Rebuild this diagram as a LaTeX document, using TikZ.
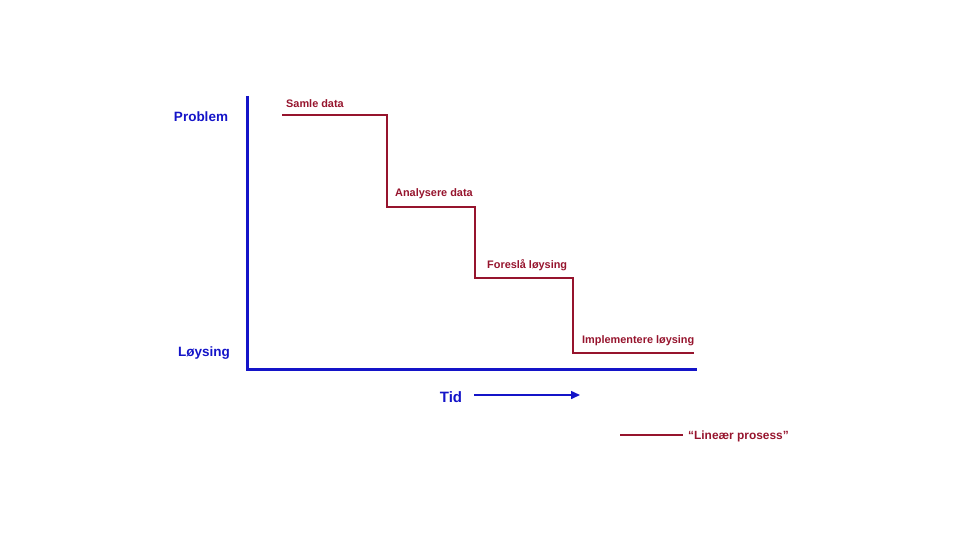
\documentclass[tikz,border=0pt]{standalone}
\usepackage{fontspec}
\setmainfont{Liberation Sans}
\usetikzlibrary{arrows.meta}
\definecolor{axisblue}{RGB}{20,20,200}
\definecolor{stairred}{RGB}{150,20,45}
\tikzset{
  axis/.style={draw=axisblue, line width=3pt},
  stair/.style={draw=stairred, line width=2.5pt},
  axislabel/.style={text=axisblue, font=\bfseries\fontsize{13.5}{15}\selectfont},
  steplabel/.style={text=stairred, font=\bfseries\fontsize{10.9}{12}\selectfont, anchor=west, inner sep=0pt},
}
\begin{document}
\begin{tikzpicture}[x=1pt, y=-1pt]
                \useasboundingbox (0,0) rectangle (960,540);
                \coordinate (top) at (247,96);
                \coordinate (origin) at (247,369);
                \coordinate (right) at (697,369);
                \node[axislabel] (problem) at (201,117) {Problem};
                \node[axislabel] (loysing) at (204,353) {Løysing};
                \node[axislabel, font=\bfseries\fontsize{15}{17}\selectfont] (tid) at (451,397) {Tid};
                \coordinate (tidstart) at (474,395); \coordinate (tidend) at (580,395);

                \coordinate (s0) at (282,115); \coordinate (s1) at (387,115);
                \coordinate (s2) at (387,207); \coordinate (s3) at (475,207);
                \coordinate (s4) at (475,278); \coordinate (s5) at (573,278);
                \coordinate (s6) at (573,353); \coordinate (s7) at (694,353);
                \node[steplabel] (samle) at (286,104) {Samle data};
                \node[steplabel] (analysere) at (395,194) {Analysere data};
                \node[steplabel] (foresla) at (487,265) {Foreslå løysing};
                \node[steplabel] (implementere) at (582,341) {Implementere løysing};

                \coordinate (legstart) at (620,435); \coordinate (legend) at (683,435);
                \node[steplabel, font=\bfseries\fontsize{11.9}{13}\selectfont] (lineaer) at (688,436) {“Lineær prosess”};

                \draw[axis] (top) -- (origin) -- (right);
                \draw[draw=axisblue, line width=1.5pt, -{Triangle[length=9pt,width=8pt]}] (tidstart) -- (tidend);
                \draw[stair] (s0) -- (s1) -- (s2) -- (s3) -- (s4) -- (s5) -- (s6) -- (s7);
                \draw[stair, line width=2pt] (legstart) -- (legend);
            \end{tikzpicture}
\end{document}
